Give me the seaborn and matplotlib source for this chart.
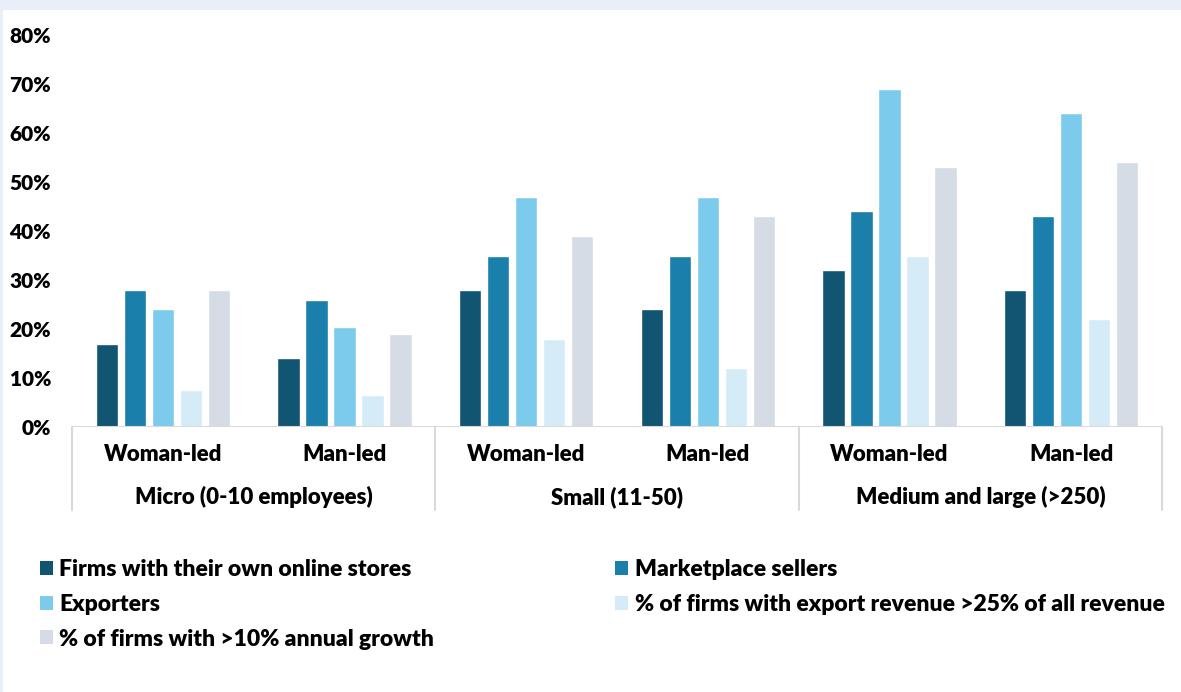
import matplotlib
matplotlib.use('Agg')
import matplotlib.pyplot as plt
import matplotlib.transforms as mtransforms
from matplotlib.patches import Rectangle
import seaborn as sns
import pandas as pd

# ================= DATA =================
groups = ['Micro (0-10 employees)', 'Small (11-50)', 'Medium and large (>250)']
leaders = ['Woman-led', 'Man-led']
series = ['Firms with their own online stores', 'Marketplace sellers', 'Exporters',
          '% of firms with export revenue >25% of all revenue',
          '% of firms with >10% annual growth']

own_store   = [0.17, 0.14, 0.28, 0.24, 0.32, 0.28]
marketplace = [0.28, 0.26, 0.35, 0.35, 0.44, 0.43]
exporters   = [0.24, 0.205, 0.47, 0.47, 0.69, 0.64]
export_rev  = [0.075, 0.065, 0.18, 0.12, 0.35, 0.22]
growth      = [0.28, 0.19, 0.39, 0.43, 0.53, 0.54]

colors = ['#125572', '#1A80AB', '#7CCBEC', '#D5ECF8', '#D5DCE6']

# ================= BUILD TABLE =================
cats = [f'{g}|{l}' for g in groups for l in leaders]
rows = []
for name, vals in zip(series, [own_store, marketplace, exporters, export_rev, growth]):
    for c, v in zip(cats, vals):
        rows.append({'cat': c, 'series': name, 'value': v})
df = pd.DataFrame(rows)

sns.set_style('white')
plt.rcParams['font.family'] = ['Lato', 'DejaVu Sans']
plt.rcParams['font.weight'] = 'heavy'
plt.rcParams['text.color'] = 'black'
plt.rcParams['xtick.color'] = 'black'
plt.rcParams['ytick.color'] = 'black'

W, H = 1181, 692
fig = plt.figure(figsize=(W / 100, H / 100), dpi=100, facecolor='#E9EFF8')
fig.patches.append(Rectangle((3 / W, 0), 1, (H - 10) / H, transform=fig.transFigure,
                             facecolor='white', edgecolor='none', zorder=-5))

ax = fig.add_axes([72 / W, (H - 427) / H, (1162 - 72) / W, (427 - 35) / H])
ax.set_facecolor('none')

sns.barplot(data=df, x='cat', y='value', hue='series', order=cats, hue_order=series,
            palette=colors, width=0.77, gap=0.2, saturation=1, ax=ax, legend=False)

ax.set_ylim(0, 0.8)
ax.set_xlim(-0.5, 5.5)
ax.set_yticks([i / 10 for i in range(9)])
ax.set_yticklabels([f'{i * 10}%' for i in range(9)], fontsize=15, fontweight='heavy')
ax.set_xticks(range(6))
ax.set_xticklabels([c.split('|')[1] for c in cats], fontsize=16, fontweight='heavy')
ax.tick_params(axis='y', length=0, pad=15)
ax.tick_params(axis='x', length=0, pad=12)
ax.set_xlabel('')
ax.set_ylabel('')
for s in ax.spines.values():
    s.set_visible(False)

# baseline and group separators
trans = mtransforms.blended_transform_factory(ax.transData, ax.transAxes)
ax.axhline(0, color='#D9D9D9', lw=1.5, zorder=3)
axh = 427 - 35
for xs in [-0.5, 1.5, 3.5, 5.5]:
    ax.plot([xs, xs], [0, -(510 - 427) / axh], color='#D9D9D9', lw=1.5,
            transform=trans, clip_on=False)
for i, g in enumerate(groups):
    ax.text(2 * i + 0.5, -(497 - 427) / axh, g, transform=trans, ha='center', va='center',
            fontsize=16, fontweight='heavy')

# legend in row order
handles = [Rectangle((0, 0), 1, 1, facecolor=c, edgecolor='none') for c in colors]
order = [0, 2, 4, 1, 3]
fig.legend([handles[i] for i in order], [series[i] for i in order],
           loc='upper left', bbox_to_anchor=(40 / W, 1 - 559 / H), ncol=2,
           frameon=False, prop={'weight': 'heavy', 'size': 16.5},
           handlelength=0.55, handleheight=0.55, handletextpad=0.3,
           labelspacing=0.6, columnspacing=7.9, borderpad=0, borderaxespad=0)

fig.savefig('out.png', dpi=100, facecolor=fig.get_facecolor())
